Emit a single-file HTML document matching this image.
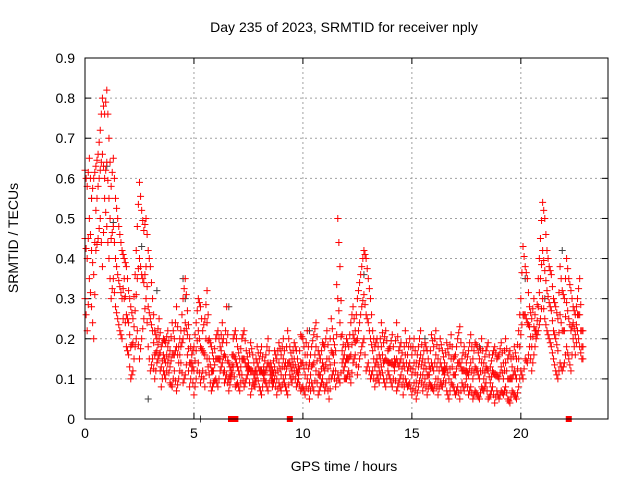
<!DOCTYPE html>
<html><head><meta charset="utf-8"><style>
body{margin:0;background:#fff}
svg{display:block;font-family:"Liberation Sans",sans-serif}
</style></head><body>
<svg id="chart" width="640" height="480" viewBox="0 0 640 480">
<text x="344" y="32" font-size="14" text-anchor="middle">Day 235 of 2023, SRMTID for receiver nply</text>
<text x="344" y="471" font-size="14" text-anchor="middle">GPS time / hours</text>
<text transform="translate(18,238) rotate(-90)" font-size="14" text-anchor="middle">SRMTID / TECUs</text>
<g id="grid"></g>
<g id="ticks"></g>
<g id="marks"></g>
<rect x="85" y="58" width="523" height="361" fill="none" stroke="#000" stroke-width="1"/>
</svg>
<script>
const xTicks=[0,5,10,15,20];
const yTicks=[0,0.1,0.2,0.3,0.4,0.5,0.6,0.7,0.8,0.9];
const yTickLabels=["0","0.1","0.2","0.3","0.4","0.5","0.6","0.7","0.8","0.9"];
const upperSeries=[.62,.58,.65,.55,.60,.63,.66,.72,.80,.76,
.82,.70,.58,.65,.55,.50,.46,.42,.40,.38,
.32,.28,.25,.36,.48,.59,.52,.47,.50,.42,
.38,.30,.22,.20,.25,.18,.20,.19,.22,.17,
.24,.20,.28,.18,.22,.30,.35,.27,.20,.16,
.18,.24,.30,.28,.22,.25,.32,.20,.18,.15,
.20,.22,.18,.24,.16,.28,.14,.12,.20,.22,
.18,.15,.20,.22,.17,.14,.19,.16,.12,.18,
.15,.18,.13,.16,.20,.14,.12,.17,.15,.19,
.16,.20,.14,.22,.18,.15,.19,.17,.13,.21,
.20,.16,.22,.14,.18,.21,.24,.17,.15,.19,
.18,.22,.15,.25,.20,.17,.50,.38,.21,.16,
.20,.18,.24,.28,.22,.30,.34,.38,.42,.40,
.35,.30,.22,.18,.20,.16,.24,.19,.22,.17,
.18,.21,.15,.24,.17,.19,.14,.22,.16,.20,
.16,.20,.14,.18,.22,.15,.19,.17,.13,.21,
.18,.22,.15,.20,.17,.14,.19,.16,.21,.15,
.16,.20,.23,.15,.18,.14,.17,.21,.15,.19,
.18,.15,.20,.14,.17,.19,.13,.16,.18,.15,
.16,.19,.14,.20,.15,.17,.13,.18,.15,.22,
.30,.43,.38,.35,.28,.25,.30,.22,.35,.45,
.54,.50,.42,.38,.36,.30,.28,.25,.38,.32,
.30,.40,.35,.32,.28,.26,.30,.35,.22];
const lowerSeries=[.30,.22,.35,.28,.20,.42,.45,.50,.38,.55,
.48,.40,.30,.35,.28,.25,.22,.20,.30,.18,
.16,.10,.12,.18,.22,.15,.20,.25,.30,.18,
.12,.15,.10,.14,.16,.08,.12,.10,.14,.09,
.08,.12,.07,.10,.14,.09,.11,.16,.08,.12,
.06,.10,.14,.09,.12,.08,.15,.11,.07,.09,
.10,.08,.12,.14,.09,.11,.07,.10,.13,.08,
.09,.07,.11,.08,.10,.12,.06,.09,.08,.11,
.08,.06,.10,.09,.07,.11,.08,.10,.06,.09,
.07,.10,.08,.06,.11,.09,.12,.08,.10,.07,
.08,.06,.10,.05,.09,.07,.12,.06,.08,.10,
.07,.09,.05,.10,.12,.08,.11,.09,.14,.10,
.10,.12,.09,.14,.16,.11,.15,.18,.20,.12,
.14,.10,.12,.08,.11,.09,.13,.10,.08,.12,
.10,.08,.12,.07,.09,.11,.06,.10,.08,.09,
.06,.09,.05,.08,.11,.07,.10,.06,.09,.08,
.07,.10,.06,.09,.08,.11,.07,.05,.09,.08,
.06,.08,.05,.09,.07,.10,.06,.08,.05,.07,
.06,.05,.08,.07,.09,.05,.06,.08,.04,.07,
.05,.07,.06,.08,.05,.04,.07,.06,.05,.08,
.12,.10,.15,.14,.18,.12,.16,.20,.22,.25,
.30,.25,.22,.20,.18,.15,.12,.10,.14,.12,
.14,.18,.15,.12,.20,.16,.22,.18,.15];
const midSeries=[.45,.40,.50,.42,.36,.52,.58,.62,.66,.60,
.64,.55,.45,.48,.40,.36,.33,.30,.35,.26,
.24,.18,.19,.27,.35,.40,.36,.34,.38,.28,
.25,.22,.16,.17,.20,.13,.16,.14,.18,.13,
.16,.16,.18,.14,.18,.20,.24,.21,.14,.14,
.12,.17,.22,.18,.17,.16,.24,.15,.12,.12,
.15,.15,.15,.19,.12,.19,.10,.11,.16,.15,
.13,.11,.15,.15,.13,.13,.12,.12,.10,.14,
.12,.12,.11,.12,.14,.12,.10,.13,.10,.14,
.11,.15,.11,.14,.14,.12,.15,.12,.11,.14,
.14,.11,.16,.09,.13,.14,.18,.11,.11,.14,
.12,.15,.10,.17,.16,.12,.30,.24,.17,.13,
.15,.15,.16,.21,.19,.20,.24,.28,.31,.26,
.24,.20,.17,.13,.15,.12,.18,.14,.15,.14,
.14,.14,.13,.15,.13,.15,.10,.16,.12,.14,
.11,.14,.09,.13,.16,.11,.14,.11,.11,.14,
.12,.16,.10,.14,.12,.12,.13,.10,.15,.11,
.11,.14,.14,.12,.12,.12,.11,.14,.10,.13,
.12,.10,.14,.10,.13,.12,.09,.12,.11,.11,
.10,.13,.10,.14,.10,.10,.10,.12,.10,.15,
.21,.26,.26,.24,.23,.18,.23,.21,.28,.35,
.42,.37,.32,.29,.27,.22,.20,.17,.26,.22,
.22,.29,.25,.22,.24,.21,.26,.26,.18];
const grayTimes=[0.3,1.0,1.3,2.6,2.9,3.3,4.5,4.6,5.3,6.6,8.2,10.3,12.8,15.6,18.1,20.2,21.1,21.9];
const grayValues=[0.55,0.63,0.49,0.43,0.05,0.32,0.35,0.30,0.00,0.28,0.12,0.22,0.36,0.20,0.18,0.35,0.30,0.42];
const zeroTimes=[6.7,6.9,9.4,22.2];
const x0=85,x1=608,y0=419,y1=58,xMax=24,yMax=0.9;
const X=h=>x0+(x1-x0)*h/xMax, Y=v=>y0-(y0-y1)*v/yMax;
const NS="http://www.w3.org/2000/svg";
const grid=document.getElementById('grid'),ticks=document.getElementById('ticks'),marks=document.getElementById('marks');
function mk(t,a,p){const e=document.createElementNS(NS,t);for(const k in a)e.setAttribute(k,a[k]);p.appendChild(e);return e;}
yTicks.forEach((v,i)=>{const y=Y(v);
 if(i>0&&i<yTicks.length-1){const g=mk('line',{x1:x0,x2:x1,y1:y,y2:y,stroke:'#a0a0a0','stroke-dasharray':'2,3'},grid);
 
 }
 mk('line',{x1:x0,x2:x0+6,y1:y,y2:y,stroke:'#000'},ticks);mk('line',{x1:x1,x2:x1-6,y1:y,y2:y,stroke:'#000'},ticks);
 const t=mk('text',{x:x0-10,y:y+5,'font-size':14,'text-anchor':'end'},ticks);t.textContent=yTickLabels[i];
 
 });
xTicks.forEach(h=>{const x=X(h);
 if(h>0){const g=mk('line',{x1:x,x2:x,y1:y0,y2:y1,stroke:'#a0a0a0','stroke-dasharray':'2,3'},grid);
 
 }
 mk('line',{x1:x,x2:x,y1:y0,y2:y0-6,stroke:'#000'},ticks);mk('line',{x1:x,x2:x,y1:y1,y2:y1+6,stroke:'#000'},ticks);
 const t=mk('text',{x:x,y:y0+19,'font-size':14,'text-anchor':'middle'},ticks);t.textContent=h;
 
 });
function plus(h,v,c){const x=X(h),y=Y(v);
 const p=mk('path',{d:`M${x-3.5},${y}h7M${x},${y-3.5}v7`,stroke:c,'stroke-width':1,fill:'none'},marks);
 
 }
grayTimes.forEach((h,i)=>plus(h,grayValues[i],'#404040'));
[upperSeries,midSeries,lowerSeries].forEach(s=>s.forEach((v,i)=>{plus(i*0.1,v,'#ff0000');plus(i*0.1+0.05,(v+s[Math.min(i+1,s.length-1)])/2,'#ff0000');}));
zeroTimes.forEach(h=>{const r=mk('rect',{x:X(h)-3,y:y0-3,width:6,height:6,fill:'#ff0000'},marks);
 
 });
</script>
</body></html>
